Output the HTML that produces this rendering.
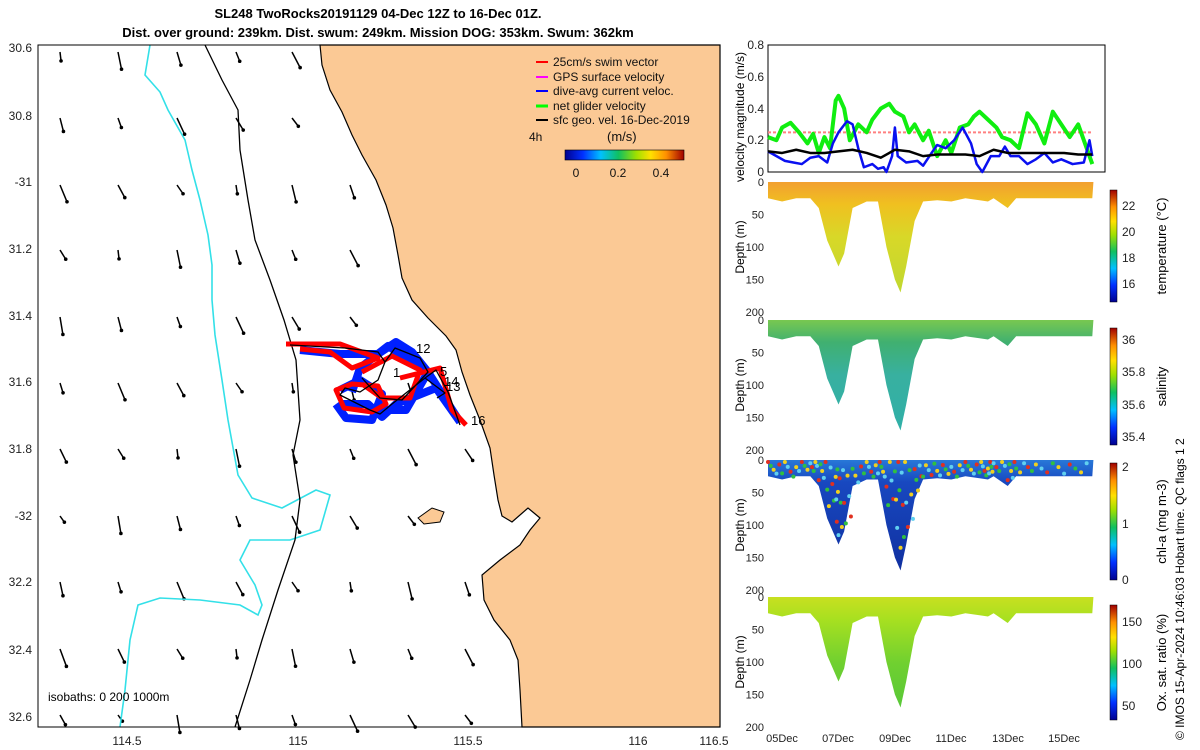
<!DOCTYPE html>
<html><head><meta charset="utf-8"><style>
body{margin:0;background:#fff;}
svg{display:block;font-family:"Liberation Sans",sans-serif;}
</style></head><body>
<svg id="fig" width="1200" height="750" viewBox="0 0 1200 750">
<defs>
<linearGradient id="jet" x1="0" x2="1" y1="0" y2="0">
<stop offset="0" stop-color="#00008f"/><stop offset="0.15" stop-color="#0030ff"/><stop offset="0.3" stop-color="#00c0ff"/><stop offset="0.45" stop-color="#10c060"/><stop offset="0.6" stop-color="#a0e000"/><stop offset="0.72" stop-color="#ffe000"/><stop offset="0.85" stop-color="#ff9000"/><stop offset="1" stop-color="#a00000"/>
</linearGradient>
<linearGradient id="jetv" x1="0" x2="0" y1="1" y2="0">
<stop offset="0" stop-color="#00008f"/><stop offset="0.15" stop-color="#0030ff"/><stop offset="0.3" stop-color="#00c0ff"/><stop offset="0.45" stop-color="#10c060"/><stop offset="0.6" stop-color="#a0e000"/><stop offset="0.72" stop-color="#ffe000"/><stop offset="0.85" stop-color="#ff9000"/><stop offset="1" stop-color="#a00000"/>
</linearGradient>
<linearGradient id="gT" x1="0" x2="0" y1="0" y2="1"><stop offset="0" stop-color="#f2a030"/><stop offset="0.2" stop-color="#f0c020"/><stop offset="0.5" stop-color="#d8d828"/><stop offset="1" stop-color="#c0d830"/></linearGradient>
<linearGradient id="gS" x1="0" x2="0" y1="0" y2="1"><stop offset="0" stop-color="#78c850"/><stop offset="0.2" stop-color="#40b070"/><stop offset="0.5" stop-color="#38b0a0"/><stop offset="1" stop-color="#30b0a8"/></linearGradient>
<linearGradient id="gC" x1="0" x2="0" y1="0" y2="1"><stop offset="0" stop-color="#2878d8"/><stop offset="0.2" stop-color="#1848c0"/><stop offset="1" stop-color="#1030a0"/></linearGradient>
<linearGradient id="gO" x1="0" x2="0" y1="0" y2="1"><stop offset="0" stop-color="#c8e020"/><stop offset="0.2" stop-color="#a8e020"/><stop offset="0.6" stop-color="#70d030"/><stop offset="1" stop-color="#58c838"/></linearGradient>
</defs>

<g>
<rect x="38" y="45" width="682" height="682" fill="#fff"/>
<g id="vectors"></g>
<path fill="none" stroke="#33e0e8" stroke-width="1.6" d="M150,45 L145,75 L160,92 L168,110 L185,140 L192,170 L200,200 L208,235 L212,265 L212,300 L215,335 L222,380 L228,420 L238,475 L252,498 L282,508 L316,490 L330,495 L320,530 L290,540 L250,540 L240,560 L255,585 L262,605 L258,615 L240,605 L200,600 L160,598 L138,605 L130,640 L125,690 L120,727"/>
<path fill="none" stroke="#000" stroke-width="1.3" d="M205,45 L222,80 L238,110 L240,150 L248,200 L255,240 L270,280 L284,320 L296,360 L300,420 L293,455 L300,500 L295,540 L278,590 L262,640 L250,680 L235,727"/>
<path fill="#fbc995" stroke="#000" stroke-width="1.2" d="M320,45 L322,65 L330,90 L342,112 L352,135 L362,155 L376,180 L386,205 L393,228 L398,255 L402,278 L412,300 L428,318 L446,336 L456,350 L462,372 L470,395 L480,420 L490,448 L494,475 L498,500 L502,516 L512,522 L528,508 L540,518 L530,530 L520,545 L500,560 L482,575 L484,600 L494,620 L510,640 L518,660 L520,690 L522,727 L720,727 L720,45 Z"/>
<path fill="#fbc995" stroke="#000" d="M418,518 L432,508 L444,512 L440,522 L424,524 Z"/>
<g fill="none" stroke-linejoin="round">
<path stroke="#0020ff" stroke-width="8" d="M300,350 L340,354 L378,354 L396,342 L412,352 L428,372 L460,422 M352,392 L360,368 L388,346 L428,372 L406,410 L372,410 M340,404 L368,404 L382,417 L396,404 L436,388 L460,422 M340,390 L360,380 L382,394 L372,420 L346,418 L336,404"/>
<path stroke="#f00" stroke-width="5" d="M286,344 L340,344 L378,358 L352,368 L330,352 L300,349 M362,372 L392,356 L420,370 L410,398 L382,398 L362,384 M336,390 L352,384 L378,386 L386,404 L372,412 L344,408 Z M400,378 L440,368 L452,410 L466,425"/>
<path stroke="#000" stroke-width="1.3" d="M290,345 L345,348 L378,352 L385,362 L378,380 L360,392 L345,388 L340,395 L370,410 L380,414 L392,404 L425,378 L436,370 L448,392 L460,425 M425,378 L445,393 L437,398 M385,362 L395,348 L420,358 L428,372 L402,400 L380,398 L362,378"/>
</g>
<g font-size="13">
<text x="416" y="353">12</text><text x="440" y="376">5</text><text x="444" y="386">14</text><text x="446" y="391">13</text><text x="471" y="425">16</text><text x="393" y="377">1</text>
</g>
<rect x="38" y="45" width="682" height="682" fill="none" stroke="#000"/>
<g font-size="12" fill="#222" text-anchor="end">
<text x="32" y="52">30.6</text><text x="32" y="120">30.8</text><text x="32" y="186">-31</text><text x="32" y="253">31.2</text><text x="32" y="320">31.4</text><text x="32" y="386">31.6</text><text x="32" y="453">31.8</text><text x="32" y="520">-32</text><text x="32" y="586">32.2</text><text x="32" y="654">32.4</text><text x="32" y="721">32.6</text>
</g>
<g font-size="12" fill="#222" text-anchor="middle">
<text x="127" y="745">114.5</text><text x="298" y="745">115</text><text x="468" y="745">115.5</text><text x="638" y="745">116</text><text x="714" y="745">116.5</text>
</g>
<text x="48" y="701" font-size="12">isobaths: 0   200   1000m</text>
<g font-size="12" fill="#111">
<line x1="536" y1="62" x2="548" y2="62" stroke="#f00" stroke-width="2"/><text x="553" y="66">25cm/s swim vector</text>
<line x1="536" y1="77" x2="548" y2="77" stroke="#f0f" stroke-width="2"/><text x="553" y="81">GPS surface velocity</text>
<line x1="536" y1="91" x2="548" y2="91" stroke="#00f" stroke-width="2"/><text x="553" y="95">dive-avg current veloc.</text>
<line x1="536" y1="106" x2="548" y2="106" stroke="#0f0" stroke-width="3"/><text x="553" y="110">net glider velocity</text>
<line x1="536" y1="120" x2="548" y2="120" stroke="#000" stroke-width="2"/><text x="553" y="124">sfc geo. vel. 16-Dec-2019</text>
<text x="529" y="141">4h</text><text x="607" y="141" font-size="13">(m/s)</text>
<rect x="565" y="150" width="119" height="10" fill="url(#jet)" stroke="#000" stroke-width="0.6"/>
<text x="576" y="177" text-anchor="middle">0</text><text x="618" y="177" text-anchor="middle">0.2</text><text x="661" y="177" text-anchor="middle">0.4</text>
</g>
</g>
<g font-size="13" font-weight="bold" text-anchor="middle">
<text x="378" y="18">SL248 TwoRocks20191129 04-Dec 12Z to 16-Dec 01Z.</text>
<text x="378" y="37">Dist. over ground: 239km. Dist. swum: 249km. Mission DOG: 353km. Swum: 362km</text>
</g>

<g>
<rect x="768" y="45" width="337" height="127" fill="#fff" stroke="#000"/>
<g id="velLines"></g>
<g font-size="12" fill="#222" text-anchor="end">
<text x="764" y="49">0.8</text><text x="764" y="81">0.6</text><text x="764" y="113">0.4</text><text x="764" y="144">0.2</text><text x="764" y="176">0</text>
</g>
<text transform="translate(744,117) rotate(-90)" font-size="12" text-anchor="middle">velocity magnitude (m/s)</text>
</g>
<g id="sections"></g>
<g font-size="11" fill="#222" text-anchor="middle">
<text x="782" y="742">05Dec</text><text x="838" y="742">07Dec</text><text x="895" y="742">09Dec</text><text x="951" y="742">11Dec</text><text x="1008" y="742">13Dec</text><text x="1064" y="742">15Dec</text>
</g>
<text transform="translate(1184,740) rotate(-90)" font-size="12">© IMOS 15-Apr-2024 10:46:03 Hobart time. QC flags 1  2</text>
</svg>
<script>
const velDays=[4.5,4.8,5.0,5.3,5.6,5.9,6.1,6.3,6.5,6.7,6.9,7.0,7.2,7.4,7.7,8.0,8.2,8.5,8.8,9.0,9.3,9.5,9.7,10.0,10.2,10.5,10.8,11.0,11.3,11.6,11.8,12.0,12.3,12.6,12.8,13.1,13.4,13.7,14.0,14.3,14.6,14.9,15.2,15.5,15.8,16.0];
const netGlider=[0.22,0.2,0.28,0.31,0.25,0.18,0.24,0.12,0.22,0.15,0.45,0.48,0.4,0.2,0.3,0.25,0.33,0.4,0.43,0.38,0.35,0.25,0.3,0.2,0.26,0.1,0.2,0.12,0.28,0.3,0.35,0.38,0.33,0.28,0.22,0.2,0.15,0.37,0.3,0.18,0.38,0.3,0.22,0.3,0.15,0.05];
const currDays=[4.5,4.8,5.1,5.4,5.7,6.0,6.3,6.6,6.8,7.0,7.3,7.5,7.7,7.9,8.2,8.4,8.6,8.7,8.9,9.0,9.1,9.4,9.8,10.0,10.3,10.5,10.8,11.1,11.4,11.7,11.9,12.1,12.4,12.7,12.9,13.1,13.4,13.7,14.0,14.3,14.6,14.9,15.3,15.7,15.9,16.0];
const diveAvg=[0.13,0.1,0.07,0.06,0.05,0.09,0.1,0.06,0.18,0.25,0.32,0.3,0.15,0.03,0.05,0.02,0.03,0.0,0.1,0.28,0.1,0.06,0.07,0.04,0.12,0.17,0.15,0.2,0.28,0.18,0.05,0.0,0.1,0.1,0.16,0.1,0.1,0.05,0.08,0.12,0.06,0.08,0.05,0.06,0.2,0.1];
const geoDays=[4.5,5.0,5.5,6.0,6.5,7.0,7.5,8.0,8.5,9.0,9.5,10.0,10.5,11.0,11.5,12.0,12.5,13.0,13.5,14.0,14.5,15.0,15.5,16.0];
const geoVel=[0.13,0.12,0.14,0.12,0.12,0.13,0.14,0.12,0.09,0.14,0.13,0.1,0.11,0.11,0.11,0.1,0.14,0.12,0.12,0.12,0.12,0.12,0.11,0.11];
const swimSpeed=0.25;
const secDays=[4.5,5.0,5.5,6.0,6.3,6.6,6.9,7.0,7.2,7.5,8.0,8.4,8.7,9.0,9.2,9.4,9.7,10.0,10.5,11.0,11.5,12.0,12.3,12.5,13.0,13.3,14.0,15.0,16.0];
const maxDepth=[25,30,25,25,40,90,120,130,110,40,30,30,100,150,170,130,60,30,28,30,25,28,30,25,40,25,25,25,25];
const panels=[
 {name:'temperature',top:182,fill:'url(#gT)',label:'temperature (°C)',ticks:['22','20','18','16'],ty:[206,232,258,284],bar:[190,302]},
 {name:'salinity',top:320,fill:'url(#gS)',label:'salinity',ticks:['36','35.8','35.6','35.4'],ty:[340,372,405,437],bar:[328,445]},
 {name:'chlorophyll',top:460,fill:'url(#gC)',label:'chl-a (mg m-3)',ticks:['2','1','0'],ty:[467,524,580],bar:[463,580]},
 {name:'oxygen',top:597,fill:'url(#gO)',label:'Ox. sat. ratio (%)',ticks:['150','100','50'],ty:[622,664,706],bar:[605,720]}
];
const NS='http://www.w3.org/2000/svg';
const xT=d=>768+(d-4.5)*28.2;
const yV=v=>172-v/0.8*127;
function mk(tag,attrs,parent){const e=document.createElementNS(NS,tag);for(const k in attrs)e.setAttribute(k,attrs[k]);parent.appendChild(e);return e;}
const vl=document.getElementById('velLines');
let sw=mk('line',{x1:768,x2:1093,y1:yV(swimSpeed),y2:yV(swimSpeed),stroke:'#ff8080','stroke-width':2,'stroke-dasharray':'3,2'},vl);


function poly(xs,ys,col,w,nm){const p=mk('polyline',{points:xs.map((d,i)=>xT(d)+','+yV(ys[i])).join(' '),fill:'none',stroke:col,'stroke-width':w,'stroke-linejoin':'round'},vl);

}
poly(velDays,netGlider,'#10ee10',4,'net-glider-velocity-line');
poly(currDays,diveAvg,'#0a10f0',2.5,'dive-avg-current-line');
poly(geoDays,geoVel,'#000',2.5,'geostrophic-velocity-line');
const sg=document.getElementById('sections');
panels.forEach((p,k)=>{
 const g=mk('g',{},sg);
 
 
 const yD=d=>p.top+d/200*130;
 let pts=[xT(4.5)+','+yD(0),xT(16.04)+','+yD(0)];
 for(let i=secDays.length-1;i>=0;i--)pts.push(xT(Math.min(secDays[i],16.04))+','+yD(maxDepth[i]));
 const f=mk('polygon',{points:pts.join(' '),fill:p.fill},g);
 
 
 if(k===2){for(let i=0;i<secDays.length-1;i++){for(let j=0;j<5;j++){const d=secDays[i]+(secDays[i+1]-secDays[i])*j/5;const md=maxDepth[i];const dep=((i*7+j*13)%10)/10*Math.max(md-5,5)+3;
  const c=mk('circle',{cx:xT(d),cy:yD(dep),r:2,fill:['#e03020','#30c040','#f0d020','#60d0f0'][(i+j)%4]},g);
  
  }}}
 ['0','50','100','150','200'].forEach((t,i)=>{const tx=mk('text',{x:764,y:yD(i*50)+4,'font-size':11,'text-anchor':'end',fill:'#222'},g);tx.textContent=t;});
 const yl=mk('text',{transform:`translate(744,${yD(100)}) rotate(-90)`,'font-size':12,'text-anchor':'middle'},g);yl.textContent='Depth (m)';
 const cb=mk('rect',{x:1110,y:p.bar[0],width:7,height:p.bar[1]-p.bar[0],fill:'url(#jetv)',stroke:'#000','stroke-width':0.5},g);
 
 
 p.ticks.forEach((t,i)=>{const tx=mk('text',{x:1122,y:p.ty[i]+4,'font-size':12,fill:'#222'},g);tx.textContent=t;});
 const cl=mk('text',{transform:`translate(1166,${(p.bar[0]+p.bar[1])/2}) rotate(-90)`,'font-size':13,'text-anchor':'middle'},g);cl.textContent=p.label;
});
const vg=document.getElementById('vectors');
const cols=[60,118,177,236,292,350,408,465,525,580,640,700];
const rows=[52,118,185,250,317,383,449,516,582,649,715];
const coastX=[330,345,380,398,412,462,495,430,482,520,522];
rows.forEach((y,ri)=>cols.forEach((x,ci)=>{
 if(x>coastX[ri]-8)return;
 const len=10+((ri*3+ci*5)%7)*2, ang=(100+((ri*11+ci*7)%40))*Math.PI/180;
 const x2=x+len*Math.cos(ang)*-0.6, y2=y+len*Math.sin(ang)*0.9;
 const a=mk('line',{x1:x,y1:y,x2:x2,y2:y2,stroke:'#000','stroke-width':1.5},vg);
 
 
 const h=mk('circle',{cx:x2,cy:y2,r:1.8,fill:'#000'},vg);
 
 
}));
</script>
</body></html>
